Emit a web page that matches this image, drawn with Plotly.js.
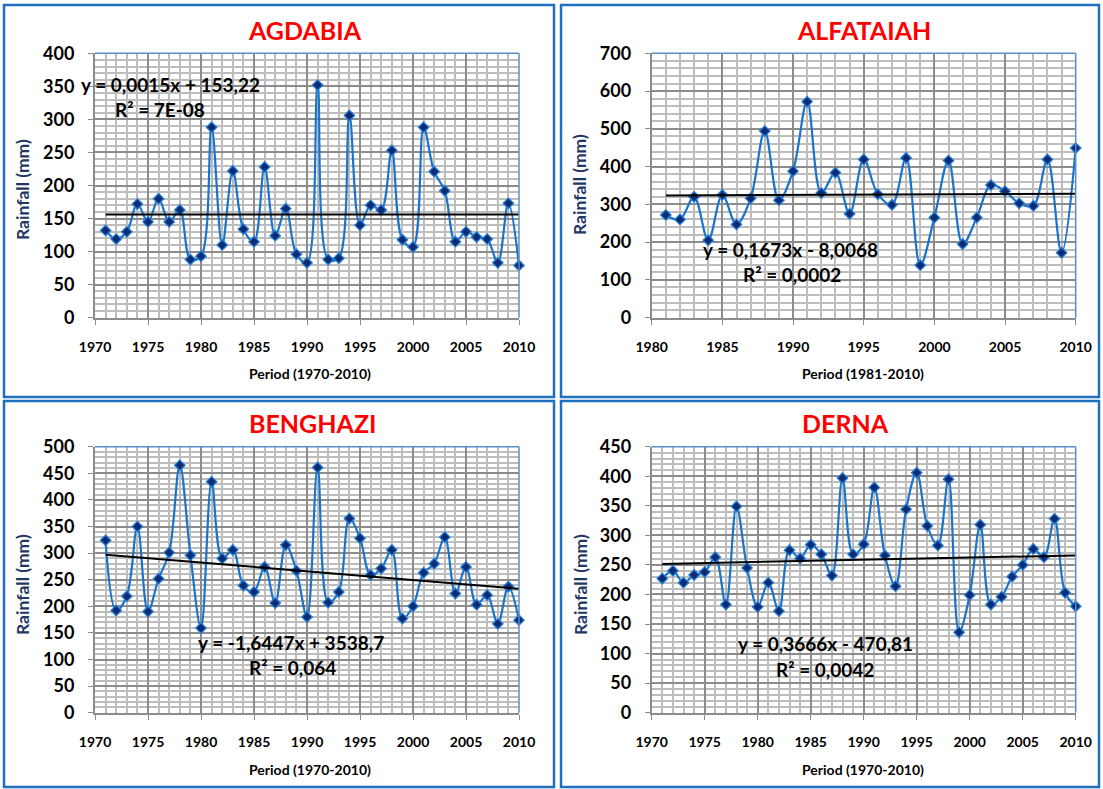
<!DOCTYPE html>
<html>
<head>
<meta charset="utf-8">
<script src="https://cdn.plot.ly/plotly-3.0.1.min.js"></script>
<style>
html,body{margin:0;padding:0;background:#fff;}
#chart{width:1103px;height:789px;}
</style>
</head>
<body>
<div id="chart"></div>
<script>
// ---------- DATA ----------
const years7010 = [1971,1972,1973,1974,1975,1976,1977,1978,1979,1980,
                   1981,1982,1983,1984,1985,1986,1987,1988,1989,1990,
                   1991,1992,1993,1994,1995,1996,1997,1998,1999,2000,
                   2001,2002,2003,2004,2005,2006,2007,2008,2009,2010];
const years8110 = [1981,1982,1983,1984,1985,1986,1987,1988,1989,1990,
                   1991,1992,1993,1994,1995,1996,1997,1998,1999,2000,
                   2001,2002,2003,2004,2005,2006,2007,2008,2009,2010];

const agdabia   = [132,119,130,172,145,180,145,163,88,93,
                   288,110,222,134,115,228,124,165,96,83,
                   352,88,90,306,140,170,163,253,118,107,
                   288,221,192,115,130,122,119,83,173,79];
const alfataiah = [272,260,320,205,325,247,316,494,311,388,
                   572,330,384,275,419,327,299,423,139,265,
                   416,195,265,351,335,303,296,419,172,449];
const benghazi  = [324,192,219,350,190,252,301,465,296,159,
                   434,290,306,239,227,274,206,315,267,180,
                   461,207,227,365,328,259,271,306,177,200,
                   263,280,330,224,274,203,221,167,237,174];
const derna     = [227,240,220,233,238,263,183,349,245,179,
                   220,172,275,261,284,268,232,397,268,285,
                   381,266,214,344,406,316,283,395,136,199,
                   318,183,196,230,250,277,263,328,203,180];

const stationNames = ["AGDABIA","ALFATAIAH","BENGHAZI","DERNA"];
const periodLabels = ["Period (1970-2010)","Period (1981-2010)","Period (1970-2010)","Period (1970-2010)"];
const trendSlopes     = [0.0015, 0.1673, -1.6447, 0.3666];
const trendIntercepts = [153.22, -8.0068, 3538.7, -470.81];
const trendEquations  = ["y = 0,0015x + 153,22","y = 0,1673x - 8,0068","y = -1,6447x + 3538,7","y = 0,3666x - 470,81"];
const r2Labels        = ["R² = 7E-08","R² = 0,0002","R² = 0,064","R² = 0,0042"];
const yMax   = [400, 700, 500, 450];
const yMajor = [50, 100, 50, 50];
const yMinor = [10, 20, 10, 10];
const xMin   = [1970, 1980, 1970, 1970];

// ---------- LAYOUT HELPERS ----------
const W = 1103, H = 789;
const px = v => v / W;
const py = v => 1 - v / H;
const FONT = "Lato, 'Open Sans', sans-serif";

const series = [[years7010, agdabia],[years8110, alfataiah],[years7010, benghazi],[years7010, derna]];
// plot area pixel boxes [left,right,top,bottom]
const boxes = [[95,519,53.3,317.7],[651.7,1075.7,53.3,317.7],[95,519,446.7,712.7],[651.7,1075.7,446.7,712.7]];
// panel frames [left,right,top,bottom]
const frames = [[4,554,5,397],[561,1099,5,397],[4,554,401,787],[561,1099,401,787]];

const traces = [];
const layout = {
  width: W, height: H,
  margin: {l:0, r:0, t:0, b:0},
  paper_bgcolor: "#ffffff",
  plot_bgcolor: "#ffffff",
  showlegend: false,
  font: {family: FONT, color: "#000"},
  annotations: [],
  shapes: []
};

const titlePos = [[305,30],[864,30],[312,423],[845,423]];
const yTitlePos = [[22,190],[580,185],[22,585],[580,585]];
const xTitlePos = [[310,373],[863,373],[310,769],[863,769]];
const eqPos = [[170,84],[790,250],[291,642],[825,643]];
const r2Pos = [[160,110],[792,274],[292,667],[825,669]];

for (let i = 0; i < 4; i++) {
  const sfx = i === 0 ? "" : String(i + 1);
  const xa = "xaxis" + sfx, ya = "yaxis" + sfx;
  const xr = "x" + sfx, yr = "y" + sfx;
  const b = boxes[i];
  const xs = series[i][0], ys = series[i][1];

  layout[xa] = {
    domain: [px(b[0]), px(b[1])],
    anchor: yr,
    range: [xMin[i], 2010],
    tickmode: "linear", tick0: 1970, dtick: 5,
    showgrid: true, gridcolor: "#8c8c8c", gridwidth: 2,
    minor: {dtick: 1, showgrid: true, gridcolor: "#bdbdbd", gridwidth: 2, ticks: ""},
    ticks: "outside", ticklen: 5, tickcolor: "#8c8c8c", tickwidth: 1,
    showline: true, linecolor: "#8c8c8c", linewidth: 2,
    zeroline: false,
    tickfont: {family: FONT, size: 14, color: "#000", weight: "bold"},
    ticklabelstandoff: 10,
    fixedrange: true
  };
  layout[ya] = {
    domain: [py(b[3]), py(b[2])],
    anchor: xr,
    range: [0, yMax[i]],
    tickmode: "linear", tick0: 0, dtick: yMajor[i],
    showgrid: true, gridcolor: "#8c8c8c", gridwidth: 2,
    minor: {dtick: yMinor[i], showgrid: true, gridcolor: "#bdbdbd", gridwidth: 2, ticks: ""},
    ticks: "outside", ticklen: 5, tickcolor: "#8c8c8c", tickwidth: 1,
    showline: true, linecolor: "#8c8c8c", linewidth: 2,
    zeroline: false,
    tickfont: {family: FONT, size: 18, color: "#000", weight: "bold"},
    ticklabelstandoff: 10,
    fixedrange: true
  };

  // data line
  traces.push({
    type: "scatter", mode: "lines+markers",
    x: xs, y: ys, xaxis: xr, yaxis: yr,
    cliponaxis: false,
    line: {color: "#1a74cc", width: 2.2, shape: "spline", smoothing: 1},
    marker: {symbol: "diamond", size: 8, color: "#0f2c72", line: {color: "#1f7ad6", width: 1.3}},
    hoverinfo: "x+y"
  });
  // linear trend from the stated equation
  const x0 = xs[0], x1 = xs[xs.length - 1];
  traces.push({
    type: "scatter", mode: "lines",
    x: [x0, x1],
    y: [trendSlopes[i] * x0 + trendIntercepts[i], trendSlopes[i] * x1 + trendIntercepts[i]],
    xaxis: xr, yaxis: yr,
    line: {color: "#000000", width: 2},
    hoverinfo: "skip"
  });

  // plot-area top/right border (blue)
  layout.shapes.push({type: "line", xref: "paper", yref: "paper",
    x0: px(b[0]), x1: px(b[1]), y0: py(b[2]), y1: py(b[2]), line: {color: "#5b8ec8", width: 1.5}});
  layout.shapes.push({type: "line", xref: "paper", yref: "paper",
    x0: px(b[1]), x1: px(b[1]), y0: py(b[2]), y1: py(b[3]), line: {color: "#5b8ec8", width: 1.5}});

  // panel frame
  const f = frames[i];
  layout.shapes.push({type: "rect", xref: "paper", yref: "paper",
    x0: px(f[0]), x1: px(f[1]), y0: py(f[3]), y1: py(f[2]),
    line: {color: "#1f6fbf", width: 2.5}, fillcolor: "rgba(0,0,0,0)", layer: "below"});

  // titles
  layout.annotations.push({text: stationNames[i], xref: "paper", yref: "paper",
    x: px(titlePos[i][0]), y: py(titlePos[i][1]), xanchor: "center", yanchor: "middle", showarrow: false,
    font: {family: FONT, size: 25, color: "#ff0000", weight: "bold"}});
  layout.annotations.push({text: "Rainfall (mm)", xref: "paper", yref: "paper", textangle: -90,
    x: px(yTitlePos[i][0]), y: py(yTitlePos[i][1]), xanchor: "center", yanchor: "middle", showarrow: false,
    font: {family: FONT, size: 17.5, color: "#1f3864", weight: "bold"}});
  layout.annotations.push({text: periodLabels[i], xref: "paper", yref: "paper",
    x: px(xTitlePos[i][0]), y: py(xTitlePos[i][1]), xanchor: "center", yanchor: "middle", showarrow: false,
    font: {family: FONT, size: 14, color: "#000", weight: "bold"}});
  layout.annotations.push({text: trendEquations[i], xref: "paper", yref: "paper",
    x: px(eqPos[i][0]), y: py(eqPos[i][1]), xanchor: "center", yanchor: "middle", showarrow: false,
    font: {family: FONT, size: 19, color: "#000", weight: "bold"}});
  layout.annotations.push({text: r2Labels[i], xref: "paper", yref: "paper",
    x: px(r2Pos[i][0]), y: py(r2Pos[i][1]), xanchor: "center", yanchor: "middle", showarrow: false,
    font: {family: FONT, size: 19, color: "#000", weight: "bold"}});
}

Plotly.newPlot("chart", traces, layout, {displayModeBar: false, staticPlot: true});
</script>
</body>
</html>
